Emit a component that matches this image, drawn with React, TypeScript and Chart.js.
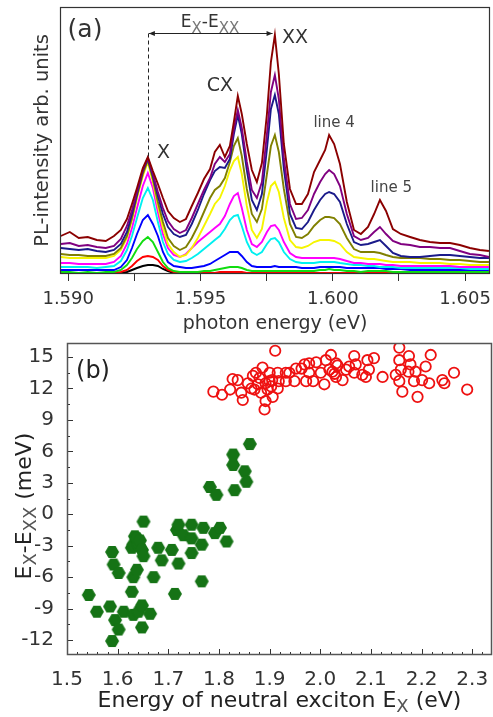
import React, { useEffect, useRef } from 'react';
import { Chart, registerables } from 'chart.js';

Chart.register(...registerables);

// ---------------- Panel (a): PL spectra ----------------
const photonEnergy = [
  1.58972, 1.59006, 1.5904, 1.59074, 1.59108, 1.59142, 1.59173, 1.59199, 1.59222, 1.59241,
  1.5926, 1.59282, 1.59301, 1.5932, 1.59339, 1.59358, 1.59377, 1.59399, 1.59422, 1.59445,
  1.59467, 1.5949, 1.59513, 1.59536, 1.59554, 1.59573, 1.59592, 1.59611, 1.59626, 1.59641,
  1.59656, 1.59675, 1.59694, 1.59713, 1.59732, 1.59751, 1.59766, 1.59781, 1.59796, 1.59815,
  1.59838, 1.59861, 1.59883, 1.59906, 1.59929, 1.59952, 1.59971, 1.59986, 1.60005, 1.60027,
  1.60053, 1.6008, 1.60106, 1.60133, 1.60156, 1.60178, 1.60201, 1.60227, 1.60257, 1.60292,
  1.60329, 1.60367, 1.60405, 1.60443, 1.6048, 1.60518, 1.60556, 1.6059,
];

const plDarkRed = [
  38, 42, 36, 37, 34, 33, 38, 44, 55, 70,
  86, 106, 117, 103, 90, 76, 63, 56, 52, 55,
  68, 81, 95, 105, 122, 129, 117, 128, 152, 178,
  160, 130, 104, 92, 111, 160, 212, 239, 200, 130,
  85, 70, 70, 80, 102, 114, 124, 139, 130, 110,
  72, 44, 40, 47, 60, 74, 63, 45, 40, 37,
  34, 32, 31, 31, 29, 26, 24, 23,
];
const plPurple = [
  30, 31, 28, 29, 27, 26, 28, 35, 48, 64,
  82, 104, 116, 100, 82, 66, 53, 45, 41, 44,
  56, 70, 84, 96, 110, 117, 112, 120, 145, 164,
  146, 112, 84, 76, 92, 140, 182, 199, 175, 115,
  70, 55, 56, 64, 80, 92, 100, 104, 100, 88,
  60, 38, 34, 36, 42, 47, 40, 33, 30, 29,
  27, 27, 26, 26, 23, 20, 19, 17,
];
const plNavy = [
  26, 25, 24, 25, 23, 22, 24, 30, 42, 60,
  80, 103, 115, 98, 78, 60, 47, 40, 37, 39,
  50, 64, 80, 94, 103, 107, 106, 115, 140, 159,
  140, 104, 74, 64, 80, 125, 165, 179, 160, 105,
  60, 46, 45, 52, 64, 74, 80, 82, 80, 72,
  50, 32, 29, 30, 32, 34, 28, 21, 18, 17,
  17, 18, 19, 19, 18, 17, 16, 16,
];
const plOlive = [
  20, 19, 19, 18, 18, 18, 20, 26, 38, 56,
  78, 100, 114, 95, 72, 52, 36, 28, 24, 27,
  36, 48, 62, 76, 84, 88, 96, 112, 128, 136,
  118, 85, 60, 52, 65, 100, 128, 139, 122, 85,
  50, 37, 36, 40, 48, 54, 57, 57, 56, 50,
  36, 25, 22, 22, 22, 21, 19, 17, 16, 16,
  16, 15, 15, 14, 14, 13, 12, 12,
];
const plYellow = [
  17, 16, 16, 16, 16, 16, 18, 24, 36, 54,
  76, 98, 112, 92, 68, 46, 30, 22, 17, 19,
  26, 36, 48, 60, 70, 76, 88, 104, 113, 117,
  100, 68, 44, 36, 45, 72, 88, 92, 82, 56,
  34, 27, 26, 28, 32, 34, 34, 34, 33, 30,
  22, 17, 16, 15, 15, 14, 13, 12, 12, 12,
  11, 11, 11, 10, 10, 9, 9, 9,
];
const plMagenta = [
  11, 11, 10, 10, 10, 10, 12, 18, 30, 46,
  66, 88, 101, 86, 62, 40, 26, 19, 17, 20,
  26, 32, 37, 42, 46, 50, 58, 70, 78, 81,
  66, 44, 30, 27, 32, 42, 48, 49, 44, 32,
  21, 17, 16, 16, 16, 16, 16, 16, 16, 15,
  13, 11, 11, 10, 10, 10, 9, 9, 8, 8,
  8, 8, 8, 8, 7, 7, 7, 7,
];
const plCyan = [
  7, 7, 7, 7, 6, 7, 8, 13, 24, 38,
  56, 76, 86, 74, 52, 32, 20, 14, 12, 13,
  16, 20, 25, 30, 34, 38, 45, 54, 58, 59,
  48, 32, 22, 19, 22, 30, 35, 36, 32, 22,
  15, 12, 11, 11, 11, 12, 12, 12, 12, 11,
  10, 9, 9, 8, 8, 7, 7, 7, 6, 6,
  6, 6, 6, 6, 6, 5, 5, 5,
];
const plBlue = [
  4, 4, 4, 4, 4, 4, 4, 7, 14, 26,
  40, 54, 59, 50, 38, 22, 12, 8, 7, 6,
  6, 7, 8, 10, 13, 16, 19, 22, 22, 22,
  18, 12, 8, 7, 7, 7, 7, 8, 7, 7,
  7, 7, 6, 6, 6, 7, 7, 7, 7, 7,
  6, 6, 6, 6, 6, 6, 5, 5, 5, 4,
  4, 4, 4, 4, 4, 4, 4, 4,
];
const plGreen = [
  2, 2, 1, 2, 1, 2, 2, 4, 9, 16,
  25, 33, 37, 32, 22, 12, 6, 3, 2, 2,
  2, 2, 3, 3, 4, 5, 6, 7, 7, 7,
  6, 4, 3, 3, 3, 3, 3, 3, 3, 3,
  3, 3, 3, 3, 3, 4, 4, 5, 4, 4,
  3, 3, 2, 3, 3, 3, 3, 2, 2, 2,
  2, 2, 2, 2, 2, 2, 2, 2,
];
const plRed = [
  1, 1, 1, 1, 1, 1, 1, 2, 4, 8,
  13, 17, 18, 17, 14, 8, 4, 2, 1, 1,
  0, 1, 1, 1, 1, 2, 2, 2, 2, 2,
  2, 1, 1, 1, 1, 1, 1, 1, 1, 1,
  1, 1, 1, 1, 1, 1, 1, 1, 1, 1,
  1, 1, 1, 1, 1, 1, 1, 1, 1, 1,
  1, 1, 1, 1, 1, 1, 1, 1,
];
const plBlack = [
  0, 0, 0, 0, 0, 0, 0, 1, 2, 4,
  6, 8, 9, 9, 8, 5, 3, 1, 0, 0,
  0, 0, 0, 0, 0, 0, 0, 0, 0, 0,
  0, 0, 0, 0, 0, 0, 0, 0, 0, 0,
  0, 0, 0, 0, 0, 0, 0, 0, 0, 0,
  0, 0, 0, 0, 0, 0, 0, 0, 0, 0,
  0, 0, 0, 0, 0, 0, 0, 0,
];

const photonTicks = [1.59, 1.5925, 1.595, 1.5975, 1.6, 1.6025, 1.605];
const photonTickLabels = ['1.590', '', '1.595', '', '1.600', '', '1.605'];

const peakLabels = ['X', 'CX', 'XX', 'line 4', 'line 5'];
const peakLabelEnergy = [1.5936, 1.59573, 1.59857, 1.60005, 1.60221];
const peakLabelLevel = [120.5, 188, 235.5, 150.5, 85.5];

const exEnergy = 1.59301;
const exPeakLevel = 117;
const exxEnergy = 1.59776;
const splittingLevel = 240.5;
const splittingLabelEnergy = 1.59536;
const splittingLabelLevel = 247.3;

// ---------------- Panel (b): E_X - E_XX vs E_X ----------------
const redEx = [
  1.789, 1.806, 1.822, 1.827, 1.837, 1.844, 1.847, 1.857, 1.864, 1.867,
  1.87, 1.873, 1.877, 1.88, 1.883, 1.886, 1.89, 1.892, 1.892, 1.896,
  1.9, 1.9, 1.903, 1.905, 1.906, 1.911, 1.916, 1.916, 1.918, 1.932,
  1.932, 1.939, 1.949, 1.952, 1.963, 1.969, 1.972, 1.978, 1.978, 1.986,
  1.992, 2.001, 2.008, 2.011, 2.018, 2.021, 2.024, 2.028, 2.031, 2.031,
  2.034, 2.044, 2.051, 2.057, 2.067, 2.067, 2.07, 2.083, 2.09, 2.093,
  2.096, 2.106, 2.123, 2.149, 2.156, 2.156, 2.156, 2.159, 2.162, 2.174,
  2.175, 2.178, 2.185, 2.188, 2.192, 2.201, 2.208, 2.215, 2.218, 2.241,
  2.245, 2.264, 2.29,
];
const redDelta = [
  11.7, 11.4, 11.9, 12.9, 12.8, 11.6, 10.9, 12.5, 12.0, 13.2,
  11.9, 13.5, 12.4, 13.0, 11.6, 14.0, 10.0, 12.5, 10.8, 11.9,
  13.5, 12.7, 12.2, 12.8, 11.2, 15.6, 13.5, 12.0, 12.7, 13.5,
  12.7, 13.5, 12.7, 13.9, 13.9, 14.3, 12.7, 13.5, 14.4, 12.7,
  14.5, 13.5, 12.4, 14.7, 13.8, 15.2, 13.6, 13.4, 14.4, 13.1,
  14.2, 12.8, 13.8, 14.1, 15.1, 13.5, 14.3, 13.3, 13.1, 14.7,
  13.8, 14.9, 13.1, 13.3, 15.9, 14.7, 12.7, 13.8, 11.7, 13.6,
  15.1, 14.3, 12.7, 13.6, 11.2, 12.8, 14.1, 12.5, 15.2, 12.8,
  12.5, 13.5, 11.9,
];
const greenEx = [
  1.543, 1.559, 1.585, 1.589, 1.589, 1.592, 1.595, 1.602, 1.602, 1.612,
  1.628, 1.628, 1.631, 1.631, 1.631, 1.634, 1.638, 1.638, 1.641, 1.641,
  1.644, 1.648, 1.648, 1.648, 1.651, 1.651, 1.664, 1.671, 1.68, 1.687,
  1.707, 1.713, 1.717, 1.72, 1.72, 1.73, 1.746, 1.746, 1.746, 1.766,
  1.766, 1.769, 1.782, 1.792, 1.795, 1.802, 1.815, 1.828, 1.828, 1.831,
  1.851, 1.854, 1.861,
];
const greenDelta = [
  -7.7, -9.3, -8.8, -3.6, -12.1, -4.8, -10.1, -5.6, -11.0, -9.3,
  -3.2, -7.4, -6.0, -9.6, -2.9, -2.1, -2.3, -5.3, -2.9, -9.3,
  -2.5, -3.4, -8.7, -10.8, -0.7, -4.0, -9.5, -6.0, -3.2, -4.4,
  -3.4, -7.6, -1.5, -1.0, -4.7, -2.0, -1.0, -2.3, -3.7, -2.9,
  -6.4, -1.3, 2.6, -1.8, 1.85, -1.3, -2.6, 5.7, 4.7, 2.3,
  4.1, 3.1, 6.7,
];

const exTicks = [1.5, 1.6, 1.7, 1.8, 1.9, 2.0, 2.1, 2.2, 2.3];
const exTickLabels = ['1.5', '1.6', '1.7', '1.8', '1.9', '2.0', '2.1', '2.2', '2.3'];
const deltaTicks = [-12, -9, -6, -3, 0, 3, 6, 9, 12, 15];
const deltaTickLabels = ['-12', '-9', '-6', '-3', '0', '3', '6', '9', '12', '15'];

// ---------------- helpers ----------------
const FAMILY = '"DejaVu Sans", sans-serif';

type Part = { text: string; sub?: boolean };

function drawRich(
  ctx: CanvasRenderingContext2D,
  parts: Part[],
  x: number,
  y: number,
  size: number,
  subSize: number,
  subShift: number,
  color: string,
  subColor: string,
) {
  const fontFor = (p: Part) => `${p.sub ? subSize : size}px ${FAMILY}`;
  let total = 0;
  for (const p of parts) {
    ctx.font = fontFor(p);
    total += ctx.measureText(p.text).width;
  }
  let cx = x - total / 2;
  ctx.textAlign = 'left';
  ctx.textBaseline = 'alphabetic';
  for (const p of parts) {
    ctx.font = fontFor(p);
    ctx.fillStyle = p.sub ? subColor : color;
    ctx.fillText(p.text, cx, p.sub ? y + subShift : y);
    cx += ctx.measureText(p.text).width;
  }
}

function makeHexagon(r: number, color: string) {
  const c = document.createElement('canvas');
  const s = Math.ceil(r * 2) + 2;
  c.width = s;
  c.height = s;
  const g = c.getContext('2d')!;
  g.fillStyle = color;
  g.beginPath();
  for (let i = 0; i < 6; i++) {
    const a = (Math.PI / 3) * i;
    const px = s / 2 + r * Math.cos(a);
    const py = s / 2 + r * Math.sin(a);
    if (i === 0) g.moveTo(px, py);
    else g.lineTo(px, py);
  }
  g.closePath();
  g.fill();
  return c;
}

const zeroPad = (s: any) => {
  s.paddingLeft = 0;
  s.paddingRight = 0;
  s.paddingTop = 0;
  s.paddingBottom = 0;
};

const panelAOverlay = {
  id: 'panelAOverlay',
  afterDraw(chart: any) {
    const { ctx, chartArea: ca } = chart;
    const xs = chart.scales.x;
    const ys = chart.scales.y;
    ctx.save();
    // frame
    ctx.strokeStyle = '#333';
    ctx.lineWidth = 1.2;
    ctx.strokeRect(ca.left + 0.5, ca.top + 0.5, ca.right - ca.left - 1, ca.bottom - ca.top - 1);

    const xX = xs.getPixelForValue(exEnergy);
    const xXX = xs.getPixelForValue(exxEnergy);
    const yArr = ys.getPixelForValue(splittingLevel);
    const yPeak = ys.getPixelForValue(exPeakLevel);
    // dashed marker
    ctx.strokeStyle = '#222';
    ctx.lineWidth = 1;
    ctx.setLineDash([4, 3]);
    ctx.beginPath();
    ctx.moveTo(Math.round(xX) + 0.5, yArr);
    ctx.lineTo(Math.round(xX) + 0.5, yPeak);
    ctx.stroke();
    ctx.setLineDash([]);
    // double arrow
    ctx.lineWidth = 1.2;
    ctx.beginPath();
    ctx.moveTo(xX + 1, yArr);
    ctx.lineTo(xXX - 1, yArr);
    ctx.stroke();
    ctx.fillStyle = '#222';
    ctx.beginPath();
    ctx.moveTo(xX + 1, yArr);
    ctx.lineTo(xX + 7, yArr - 2.5);
    ctx.lineTo(xX + 7, yArr + 2.5);
    ctx.closePath();
    ctx.fill();
    ctx.beginPath();
    ctx.moveTo(xXX - 1, yArr);
    ctx.lineTo(xXX - 7, yArr - 2.5);
    ctx.lineTo(xXX - 7, yArr + 2.5);
    ctx.closePath();
    ctx.fill();

    drawRich(
      ctx,
      [{ text: 'E' }, { text: 'X', sub: true }, { text: '-E' }, { text: 'XX', sub: true }],
      xs.getPixelForValue(splittingLabelEnergy),
      ys.getPixelForValue(splittingLabelLevel),
      17, 15, 6, '#333', '#777',
    );

    // peak labels
    ctx.textAlign = 'center';
    ctx.textBaseline = 'middle';
    peakLabels.forEach((t, i) => {
      const small = t.startsWith('line');
      ctx.font = `${small ? 15 : 19}px ${FAMILY}`;
      ctx.fillStyle = small ? '#444' : '#333';
      ctx.fillText(t, xs.getPixelForValue(peakLabelEnergy[i]), ys.getPixelForValue(peakLabelLevel[i]));
    });

    // panel tag
    ctx.font = `25px ${FAMILY}`;
    ctx.fillStyle = '#333';
    ctx.fillText('(a)', ca.left + 25, ca.top + 23);
    ctx.restore();
  },
};

const panelBOverlay = {
  id: 'panelBOverlay',
  afterDraw(chart: any) {
    const { ctx, chartArea: ca } = chart;
    const xs = chart.scales.x;
    const ys = chart.scales.y;
    ctx.save();
    // inward ticks
    ctx.strokeStyle = '#333';
    ctx.lineWidth = 1;
    ctx.beginPath();
    const yTick = (v: number, len: number) => {
      if (v < ys.min || v > ys.max) return;
      const p = Math.round(ys.getPixelForValue(v)) + 0.5;
      ctx.moveTo(ca.left, p);
      ctx.lineTo(ca.left + len, p);
    };
    const xTick = (v: number, len: number) => {
      if (v < xs.min - 1e-9 || v > xs.max) return;
      const p = Math.round(xs.getPixelForValue(v)) + 0.5;
      ctx.moveTo(p, ca.bottom);
      ctx.lineTo(p, ca.bottom - len);
    };
    deltaTicks.forEach((v) => {
      yTick(v, 6);
      yTick(v + 1.5, 3);
      yTick(v - 1.5, 3);
    });
    exTicks.forEach((v) => {
      xTick(v, 6);
      for (let k = 1; k < 5; k++) xTick(v + 0.02 * k, 3);
    });
    ctx.stroke();
    // frame
    ctx.strokeStyle = '#555';
    ctx.lineWidth = 1.5;
    ctx.strokeRect(ca.left + 0.5, ca.top + 0.5, ca.right - ca.left - 1, ca.bottom - ca.top - 1);

    // axis titles
    drawRich(
      ctx,
      [{ text: 'Energy of neutral exciton E' }, { text: 'X', sub: true }, { text: ' (eV)' }],
      (ca.left + ca.right) / 2,
      370,
      22, 18, 5, '#222', '#555',
    );
    ctx.save();
    ctx.translate(31, (ca.top + ca.bottom) / 2 + 7);
    ctx.rotate(-Math.PI / 2);
    drawRich(
      ctx,
      [{ text: 'E' }, { text: 'X', sub: true }, { text: '-E' }, { text: 'XX', sub: true }, { text: ' (meV)' }],
      0,
      0,
      22, 18, 5, '#222', '#555',
    );
    ctx.restore();

    ctx.font = `24px ${FAMILY}`;
    ctx.fillStyle = '#222';
    ctx.textAlign = 'center';
    ctx.textBaseline = 'middle';
    ctx.fillText('(b)', ca.left + 26, ca.top + 29);
    ctx.restore();
  },
};

export default function App() {
  const refA = useRef<HTMLCanvasElement>(null);
  const refB = useRef<HTMLCanvasElement>(null);

  useEffect(() => {
    const series = [
      { v: plDarkRed, c: '#8b0000' },
      { v: plPurple, c: '#800080' },
      { v: plNavy, c: '#1a1a8a' },
      { v: plOlive, c: '#808000' },
      { v: plYellow, c: '#f5f500' },
      { v: plMagenta, c: '#ff00ff' },
      { v: plCyan, c: '#00f0f0' },
      { v: plBlue, c: '#0000ff' },
      { v: plGreen, c: '#10dd10' },
      { v: plRed, c: '#ff0000' },
      { v: plBlack, c: '#000000' },
    ];
    const chartA = new Chart(refA.current!, {
      type: 'line',
      data: {
        datasets: series.map((s) => ({
          data: photonEnergy.map((e, i) => ({ x: e, y: s.v[i] })),
          borderColor: s.c,
          borderWidth: 1.9,
          pointRadius: 0,
          fill: false,
          tension: 0,
        })),
      },
      options: {
        responsive: false,
        animation: false,
        events: [],
        layout: { autoPadding: false, padding: { left: 0, right: 3, top: 7, bottom: 0 } },
        plugins: { legend: { display: false }, tooltip: { enabled: false } },
        scales: {
          x: {
            type: 'linear',
            min: 1.58969,
            max: 1.60594,
            afterBuildTicks: (s: any) => {
              s.ticks = photonTicks.map((v) => ({ value: v }));
            },
            afterFit: (s: any) => {
              s.height = 63;
              zeroPad(s);
            },
            grid: { display: true, drawOnChartArea: false, drawTicks: true, tickLength: 7, color: '#333', lineWidth: 1 },
            border: { display: false },
            ticks: {
              autoSkip: false,
              maxRotation: 0,
              minRotation: 0,
              padding: 8,
              color: '#333',
              font: { family: FAMILY, size: 18 },
              callback: (_v: any, i: number) => photonTickLabels[i],
            },
            title: {
              display: true,
              text: 'photon energy (eV)',
              color: '#333',
              font: { family: FAMILY, size: 19 },
              padding: { top: 0, bottom: 2 },
            },
          },
          y: {
            type: 'linear',
            min: 0,
            max: 267,
            afterFit: (s: any) => {
              s.width = 60;
              zeroPad(s);
            },
            grid: { display: false },
            border: { display: false },
            ticks: { display: false },
            title: {
              display: true,
              text: 'PL-intensity arb. units',
              color: '#333',
              font: { family: FAMILY, size: 19.5 },
              padding: { top: 31, bottom: 0 },
            },
          },
        },
      } as any,
      plugins: [panelAOverlay],
    });

    const hex = makeHexagon(7, '#157315');
    const chartB = new Chart(refB.current!, {
      type: 'scatter',
      data: {
        datasets: [
          {
            data: redEx.map((x, i) => ({ x, y: redDelta[i] })),
            pointStyle: 'circle',
            pointRadius: 5.2,
            borderWidth: 1.8,
            borderColor: '#ee1111',
            backgroundColor: 'rgba(255,255,255,0)',
          },
          {
            data: greenEx.map((x, i) => ({ x, y: greenDelta[i] })),
            pointStyle: hex,
            pointRadius: 7,
            borderWidth: 0,
            backgroundColor: '#157315',
          },
        ],
      },
      options: {
        responsive: false,
        animation: false,
        events: [],
        layout: { autoPadding: false, padding: { left: 0, right: 1, top: 6, bottom: 0 } },
        plugins: { legend: { display: false }, tooltip: { enabled: false } },
        scales: {
          x: {
            type: 'linear',
            min: 1.5,
            max: 2.339,
            afterBuildTicks: (s: any) => {
              s.ticks = exTicks.map((v) => ({ value: v }));
            },
            afterFit: (s: any) => {
              s.height = 62;
              zeroPad(s);
            },
            grid: { display: false },
            border: { display: false },
            ticks: {
              autoSkip: false,
              maxRotation: 0,
              minRotation: 0,
              padding: 5,
              color: '#333',
              font: { family: FAMILY, size: 20 },
              callback: (_v: any, i: number) => exTickLabels[i],
            },
          },
          y: {
            type: 'linear',
            min: -13.43,
            max: 16.34,
            afterBuildTicks: (s: any) => {
              s.ticks = deltaTicks.map((v) => ({ value: v }));
            },
            afterFit: (s: any) => {
              s.width = 67;
              zeroPad(s);
            },
            grid: { display: false },
            border: { display: false },
            ticks: {
              autoSkip: false,
              padding: 5,
              color: '#333',
              font: { family: FAMILY, size: 20 },
              callback: (_v: any, i: number) => deltaTickLabels[i],
            },
          },
        },
      } as any,
      plugins: [panelBOverlay],
    });

    return () => {
      chartA.destroy();
      chartB.destroy();
    };
  }, []);

  return (
    <div style={{ position: 'fixed', left: 0, top: 0, width: 493, height: 717, background: '#fff' }}>
      <canvas
        ref={refA}
        width={493}
        height={337}
        style={{ position: 'absolute', left: 0, top: 0, width: 493, height: 337 }}
      />
      <canvas
        ref={refB}
        width={493}
        height={380}
        style={{ position: 'absolute', left: 0, top: 337, width: 493, height: 380 }}
      />
    </div>
  );
}
